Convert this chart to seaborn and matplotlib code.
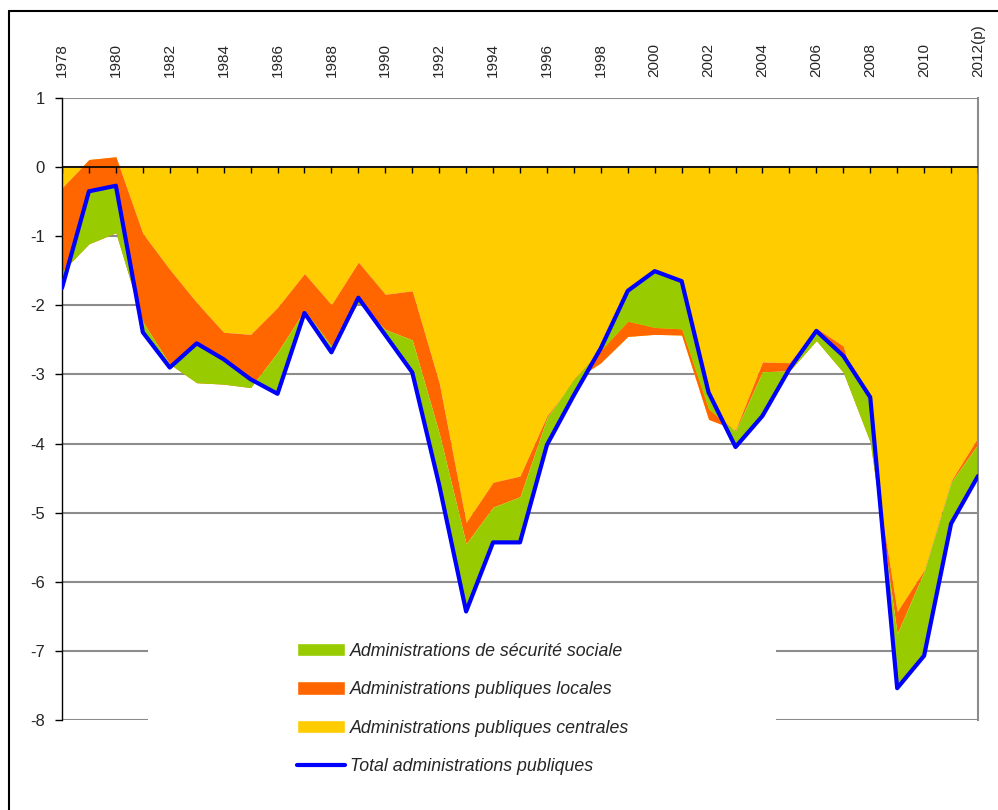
import numpy as np
import pandas as pd
import matplotlib.pyplot as plt
import seaborn as sns
from matplotlib.patches import Rectangle, Patch
from matplotlib.lines import Line2D

# data (% du PIB)
years = list(range(1978, 2013))
central = [-0.30, 0.11, 0.15, -0.96, -1.48, -1.96, -2.39, -2.42, -2.03, -1.54,
           -1.99, -1.375, -1.84, -1.79, -3.12, -5.14, -4.56, -4.47, -3.60, -3.09,
           -2.83, -2.45, -2.42, -2.43, -3.65, -3.80, -2.82, -2.83, -2.33, -2.59,
           -3.96, -6.43, -5.83, -4.54, -3.91]
local = [-1.21, -1.22, -1.10, -1.28, -1.37, -1.16, -0.75, -0.77, -0.65, -0.53,
         -0.60, -0.585, -0.51, -0.71, -0.73, -0.31, -0.36, -0.30, -0.03, 0.02,
         0.18, 0.22, 0.10, 0.09, 0.15, -0.02, -0.14, -0.12, -0.18, -0.38,
         -0.02, -0.32, -0.02, -0.02, -0.10]
social = [-0.24, 0.76, 0.68, -0.15, -0.05, 0.57, 0.36, 0.12, -0.60, -0.04,
          -0.09, 0.07, -0.08, -0.47, -0.75, -0.98, -0.51, -0.66, -0.39, -0.23,
          0.03, 0.44, 0.815, 0.69, 0.24, -0.23, -0.64, 0.03, 0.14, 0.24,
          0.65, -0.79, -1.22, -0.60, -0.46]
tick_years = list(range(1978, 2013, 2))
tick_labels = [str(y) for y in range(1978, 2012, 2)] + ['2012(p)']
series_names = ['Administrations de sécurité sociale',
                'Administrations publiques locales',
                'Administrations publiques centrales',
                'Total administrations publiques']

sns.set_style('white')
plt.rcParams['font.family'] = ['Liberation Sans', 'DejaVu Sans']
plt.rcParams['axes.unicode_minus'] = False

df = pd.DataFrame({'year': years, 'central': central, 'local': local, 'social': social})
df['cum1'] = df['central']
df['cum2'] = df['cum1'] + df['local']
df['total'] = df['cum2'] + df['social']

c_yellow, c_orange, c_green, c_blue = '#FFCC00', '#FF6600', '#99CC00', '#0000FF'

fig = plt.figure(figsize=(9.98, 8.10), dpi=100)
ax = fig.add_axes([62/998, 90/810, 916/998, 622/810])

# stacked areas (excel style: each band from previous cumulative to the next)
ax.fill_between(df['year'], 0, df['cum1'], color=c_yellow, lw=0, zorder=1)
ax.fill_between(df['year'], df['cum1'], df['cum2'], color=c_orange, lw=0, zorder=1.1)
ax.fill_between(df['year'], df['cum2'], df['total'], color=c_green, lw=0, zorder=1.2)
sns.lineplot(data=df, x='year', y='total', color=c_blue, lw=3, ax=ax, zorder=4, legend=False)

# zero axis with year ticks
ax.axhline(0, color='black', lw=1.2, zorder=3)
ax.vlines(years, -0.09, 0, color='black', lw=1, zorder=3)

ax.set_xlim(1978, 2012)
ax.set_ylim(-8, 1)
ax.set_yticks(range(-8, 2))
ax.set_axisbelow(True)
ax.yaxis.grid(True, color='#8c8c8c', lw=1.5)
ax.xaxis.grid(False)

ax.set_xticks(tick_years)
ax.set_xticklabels(tick_labels)
ax.xaxis.set_ticks_position('top')
ax.tick_params(axis='x', length=0, pad=15, labelrotation=90, labelsize=11)
ax.tick_params(axis='y', left=True, direction='out', length=5, width=1,
               color='black', pad=7.5, labelsize=12)
ax.set_xlabel('')
ax.set_ylabel('')

for side in ['top', 'bottom']:
    ax.spines[side].set_visible(False)
ax.spines['left'].set_color('black')
ax.spines['left'].set_linewidth(1)
ax.spines['right'].set_color('#8c8c8c')
ax.spines['right'].set_linewidth(1.5)

# white legend area hiding the lower grid lines
ax.add_patch(Rectangle((86/916, -0.13), 628/916, 0.32, transform=ax.transAxes,
                       facecolor='white', edgecolor='none', zorder=0.8, clip_on=False))

handles = [Patch(facecolor=c_green), Patch(facecolor=c_orange), Patch(facecolor=c_yellow),
           Line2D([], [], color=c_blue, lw=3)]
fig.legend(handles, series_names, loc='upper left',
           bbox_to_anchor=(297/998, 1 - 642.5/810), frameon=False,
           borderpad=0, borderaxespad=0, handlelength=2.7, handleheight=0.8,
           handletextpad=0.3, labelspacing=1.21,
           prop={'family': 'Liberation Sans', 'style': 'italic', 'size': 12.8})

# outer chart border
fig.add_artist(Line2D([9/998, 9/998], [0, 1 - 11/810], transform=fig.transFigure,
                      color='black', lw=1.5))
fig.add_artist(Line2D([9/998, 1], [1 - 11/810, 1 - 11/810], transform=fig.transFigure,
                      color='black', lw=1.5))

fig.savefig('out.png', dpi=100)
